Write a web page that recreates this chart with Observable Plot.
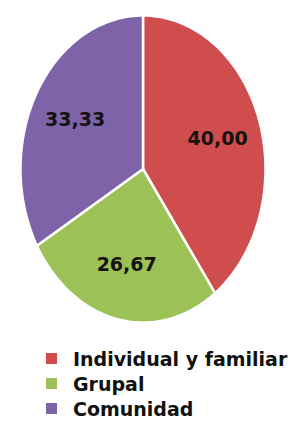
<!DOCTYPE html>
<html><head><meta charset="utf-8">
<script src="https://cdn.jsdelivr.net/npm/d3@7"></script>
<script src="https://cdn.jsdelivr.net/npm/@observablehq/plot@0.6"></script>
<style>
body{margin:0;background:#fff;font-family:"DejaVu Sans",sans-serif;}
#legend{position:absolute;left:46px;top:346px;}
.row{display:flex;align-items:center;height:25px;font-weight:bold;font-size:19px;color:#111;}
.sw{width:11px;height:11px;margin-right:16px;}
</style></head>
<body><div id="chart"></div><div id="legend"></div>
<script>
const categories = ["Individual y familiar", "Grupal", "Comunidad"];
const values = [40.00, 26.67, 33.33];
const labels = ["40,00", "26,67", "33,33"];
const colors = ["#cf4d4c", "#9cc156", "#7f63a9"];

const arcs = d3.pie().sort(null)(values);
const pts = [];
arcs.forEach((a, i) => {
  const n = 80;
  pts.push({cat: categories[i], x: 0, y: 0});
  for (let k = 0; k <= n; k++) {
    const t = a.startAngle + (a.endAngle - a.startAngle) * k / n;
    pts.push({cat: categories[i], x: Math.sin(t), y: Math.cos(t)});
  }
  pts.push({cat: categories[i], x: 0, y: 0});
});
const lab = arcs.map((a, i) => {
  const m = (a.startAngle + a.endAngle) / 2;
  const r = 0.64;
  return {text: labels[i], x: r * Math.sin(m), y: r * Math.cos(m)};
});

const chart = Plot.plot({
  width: 293, height: 335,
  margin: 0,
  x: {domain: [-1, 1], range: [20, 265], axis: null},
  y: {domain: [-1, 1], range: [322, 15], axis: null},
  color: {domain: categories, range: colors},
  marks: [
    Plot.line(pts, {x: "x", y: "y", z: "cat", fill: "cat", stroke: "white", strokeWidth: 2.5, curve: "linear-closed"}),
    Plot.text(lab, {x: "x", y: "y", text: "text", fontSize: 19, fontWeight: "bold", fill: "#161212", fontFamily: "DejaVu Sans"})
  ]
});
document.getElementById("chart").append(chart);

const leg = document.getElementById("legend");
categories.forEach((c, i) => {
  const row = document.createElement("div");
  row.className = "row";
  const sw = document.createElement("div");
  sw.className = "sw"; sw.style.background = colors[i];
  const tx = document.createElement("span");
  tx.textContent = c;
  row.append(sw, tx);
  leg.append(row);
});
</script></body></html>
